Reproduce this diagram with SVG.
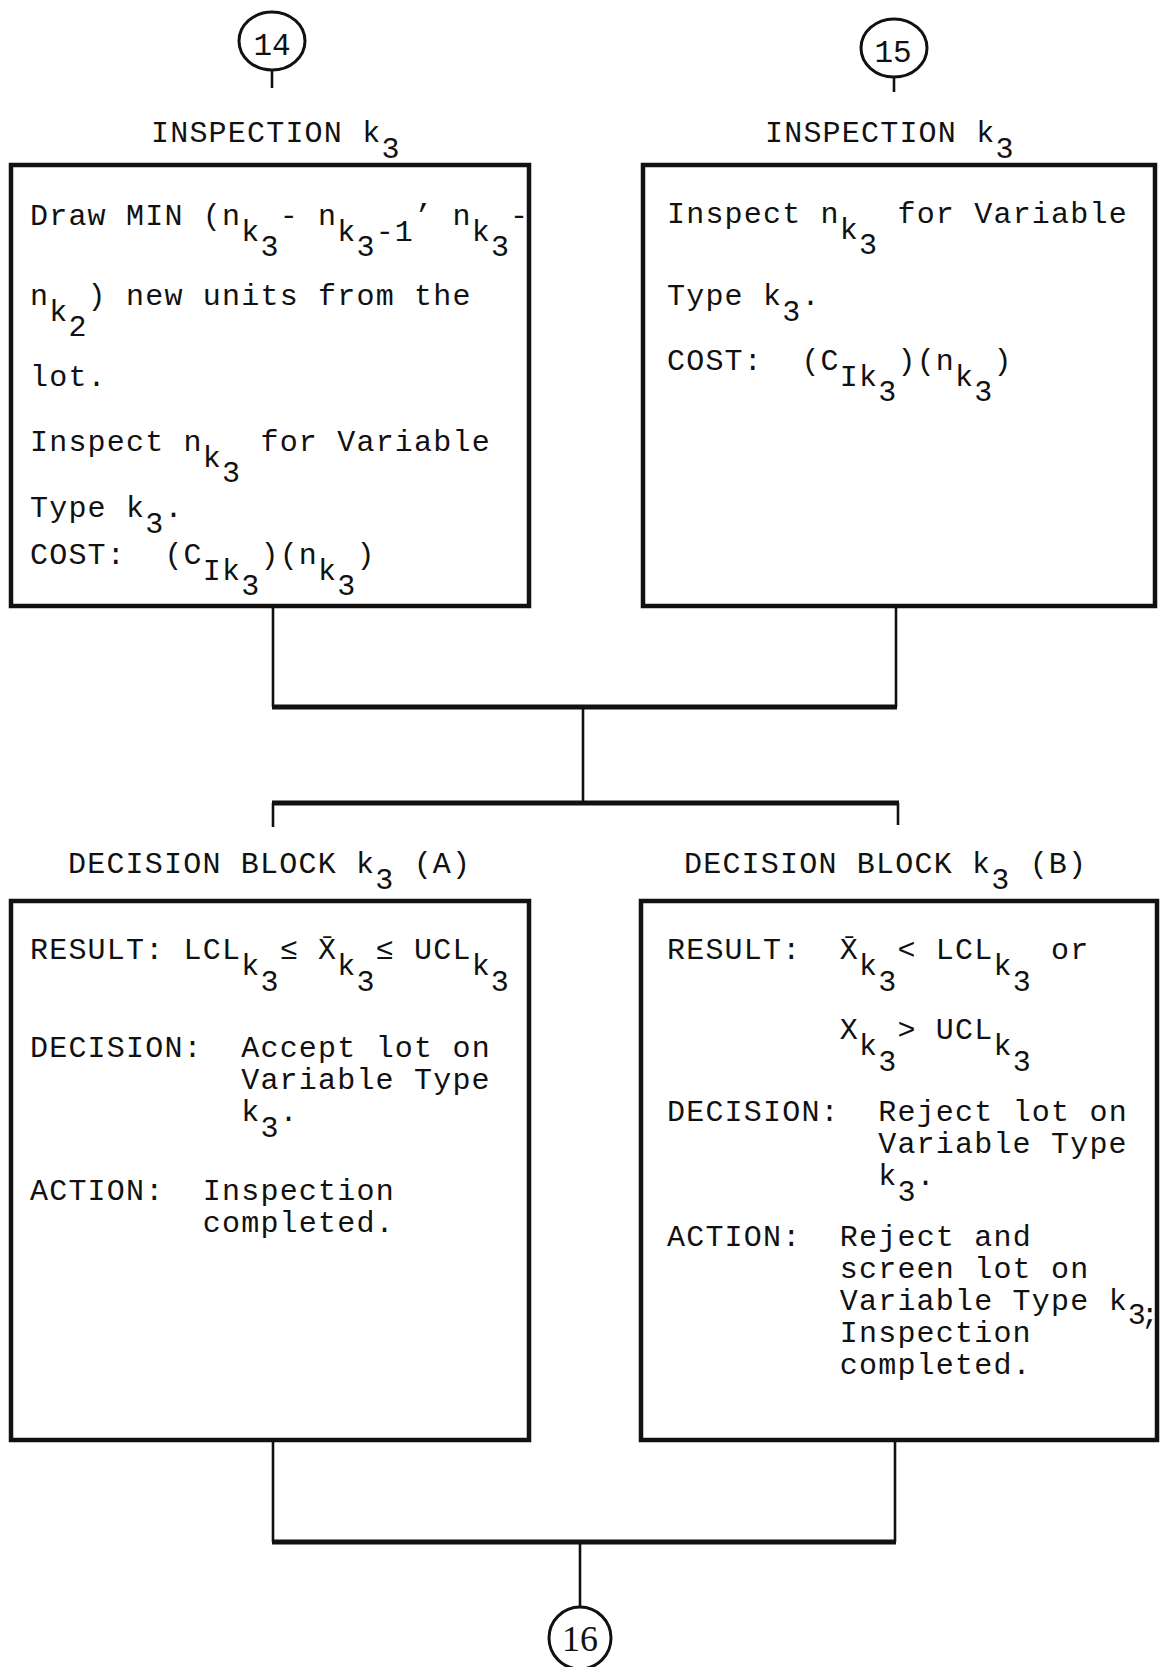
<svg xmlns="http://www.w3.org/2000/svg" width="1163" height="1667" viewBox="0 0 1163 1667">
<style>
.t { font-family: "Liberation Mono", "Courier New", monospace; font-size: 30px; letter-spacing: 1.2px; fill: #111; white-space: pre; }
.box { fill: none; stroke: #111; stroke-width: 4.5; }
.circ { fill: none; stroke: #111; stroke-width: 3; }
.v { stroke: #111; stroke-width: 2.6; fill: none; }
.h { stroke: #111; stroke-width: 5; fill: none; }
.num { font-family: "Liberation Mono", "Courier New", monospace; font-size: 31px; fill: #111; text-anchor: middle; }
.num16 { font-family: "Liberation Serif", "Times New Roman", serif; font-size: 36px; fill: #111; text-anchor: middle; }
</style>
<rect width="1163" height="1667" fill="#fff"/>

<g id="connectors">
  <line class="v" x1="272" y1="70" x2="272" y2="88"/>
  <line class="v" x1="894" y1="77" x2="894" y2="92"/>
  <line class="v" x1="273" y1="606" x2="273" y2="707"/>
  <line class="v" x1="896" y1="606" x2="896" y2="707"/>
  <line class="h" x1="272" y1="707" x2="897" y2="707"/>
  <line class="v" x1="583" y1="707" x2="583" y2="803"/>
  <line class="h" x1="272" y1="803" x2="899" y2="803"/>
  <line class="v" x1="273" y1="803" x2="273" y2="827"/>
  <line class="v" x1="898" y1="803" x2="898" y2="825"/>
  <line class="v" x1="273" y1="1440" x2="273" y2="1542"/>
  <line class="v" x1="895" y1="1440" x2="895" y2="1542"/>
  <line class="h" x1="272" y1="1542" x2="896" y2="1542"/>
  <line class="v" x1="580" y1="1542" x2="580" y2="1607"/>
</g>

<g id="c14">
  <ellipse class="circ" cx="272" cy="41" rx="33" ry="29"/>
  <text class="num" x="272" y="55">14</text>
</g>
<g id="c15">
  <ellipse class="circ" cx="894" cy="48" rx="33" ry="29"/>
  <text class="num" x="893" y="62">15</text>
</g>
<g id="c16">
  <ellipse class="circ" cx="580" cy="1638" rx="31" ry="31"/>
  <text class="num16" x="580" y="1651">16</text>
</g>

<g id="inspA">
  <text class="t" x="151" y="142">INSPECTION k<tspan y="158">3</tspan></text>
  <rect class="box" x="11" y="165" width="518" height="441"/>
  <text class="t" x="30" y="225">Draw MIN (n<tspan y="241">k</tspan><tspan y="256">3</tspan><tspan y="225">- n</tspan><tspan y="241">k</tspan><tspan y="256">3</tspan><tspan y="241">-1</tspan><tspan y="225">’ n</tspan><tspan y="241">k</tspan><tspan y="256">3</tspan><tspan y="225">-</tspan></text>
  <text class="t" x="30" y="305">n<tspan y="321">k</tspan><tspan y="336">2</tspan><tspan y="305">) new units from the</tspan></text>
  <text class="t" x="30" y="386">lot.</text>
  <text class="t" x="30" y="451">Inspect n<tspan y="467">k</tspan><tspan y="482">3</tspan><tspan y="451"> for Variable</tspan></text>
  <text class="t" x="30" y="517">Type k<tspan y="533">3</tspan><tspan y="517">.</tspan></text>
  <text class="t" x="30" y="564">COST:  (C<tspan y="580">Ik</tspan><tspan y="595">3</tspan><tspan y="564">)(n</tspan><tspan y="580">k</tspan><tspan y="595">3</tspan><tspan y="564">)</tspan></text>
</g>

<g id="inspB">
  <text class="t" x="765" y="142">INSPECTION k<tspan y="158">3</tspan></text>
  <rect class="box" x="643" y="165" width="512" height="441"/>
  <text class="t" x="667" y="223">Inspect n<tspan y="239">k</tspan><tspan y="254">3</tspan><tspan y="223"> for Variable</tspan></text>
  <text class="t" x="667" y="305">Type k<tspan y="321">3</tspan><tspan y="305">.</tspan></text>
  <text class="t" x="667" y="370">COST:  (C<tspan y="386">Ik</tspan><tspan y="401">3</tspan><tspan y="370">)(n</tspan><tspan y="386">k</tspan><tspan y="401">3</tspan><tspan y="370">)</tspan></text>
</g>

<g id="decA">
  <text class="t" x="68" y="873">DECISION BLOCK k<tspan y="889">3</tspan><tspan y="873"> (A)</tspan></text>
  <rect class="box" x="11" y="901" width="518" height="539"/>
  <text class="t" x="30" y="959">RESULT: LCL<tspan y="975">k</tspan><tspan y="991">3</tspan><tspan y="959">≤ </tspan><tspan x="318" y="959">X̄</tspan><tspan y="975">k</tspan><tspan y="991">3</tspan><tspan y="959">≤ UCL</tspan><tspan y="975">k</tspan><tspan y="991">3</tspan></text>
  <text class="t" x="30" y="1057">DECISION:  Accept lot on</text>
  <text class="t" x="241.2" y="1089">Variable Type</text>
  <text class="t" x="241.2" y="1121">k<tspan y="1137">3</tspan><tspan y="1121">.</tspan></text>
  <text class="t" x="30" y="1200">ACTION:  Inspection</text>
  <text class="t" x="202.8" y="1232">completed.</text>
</g>

<g id="decB">
  <text class="t" x="684" y="873">DECISION BLOCK k<tspan y="889">3</tspan><tspan y="873"> (B)</tspan></text>
  <rect class="box" x="641" y="901" width="516" height="539"/>
  <text class="t" x="667" y="959">RESULT:<tspan x="839.8" y="959">X̄</tspan><tspan y="975">k</tspan><tspan y="991">3</tspan><tspan y="959">&lt; LCL</tspan><tspan y="975">k</tspan><tspan y="991">3</tspan><tspan y="959"> or</tspan></text>
  <text class="t" x="839.8" y="1039">X<tspan y="1055">k</tspan><tspan y="1071">3</tspan><tspan y="1039">&gt; UCL</tspan><tspan y="1055">k</tspan><tspan y="1071">3</tspan></text>
  <text class="t" x="667" y="1121">DECISION:  Reject lot on</text>
  <text class="t" x="878.2" y="1153">Variable Type</text>
  <text class="t" x="878.2" y="1185">k<tspan y="1201">3</tspan><tspan y="1185">.</tspan></text>
  <text class="t" x="667" y="1246">ACTION:  Reject and</text>
  <text class="t" x="839.8" y="1278">screen lot on</text>
  <text class="t" x="839.8" y="1310">Variable Type k<tspan y="1324" letter-spacing="-5px">3;</tspan></text>
  <text class="t" x="839.8" y="1342">Inspection</text>
  <text class="t" x="839.8" y="1374">completed.</text>
</g>
</svg>
